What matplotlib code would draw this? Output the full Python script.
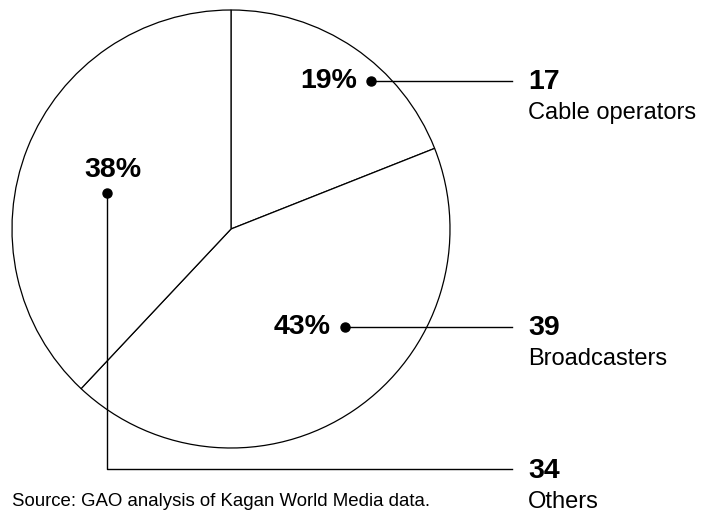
import matplotlib
matplotlib.use("Agg")
import matplotlib.pyplot as plt

# share of deals by acquirer type (GAO / Kagan)
categories = ["Cable operators", "Broadcasters", "Others"]
shares = [19, 43, 38]
counts = [17, 39, 34]

plt.rcParams['font.family'] = ['Liberation Sans', 'DejaVu Sans']

W, H = 702, 512
fig = plt.figure(figsize=(W / 100, H / 100), dpi=100)
ax = fig.add_axes([0, 0, 1, 1])


def fy(y):
    # pixel row (top-down) -> data y (bottom-up)
    return H - y


cx, cy, r = 231, fy(229), 219
ax.pie(shares, startangle=90, counterclock=False, center=(cx, cy), radius=r,
       colors=["white"] * 3, frame=True,
       wedgeprops=dict(edgecolor="black", linewidth=0.9))

ax.set_xlim(0, W)
ax.set_ylim(0, H)
ax.set_aspect("equal")
ax.axis("off")

# leader lines: dot position, path, text position
dots = [(371, 81), (345, 327), (107, 193)]
pct_pos = [(357, 81, "right"), (331, 327, "right"), (113, 170, "center")]
label_y = [81, 327, 470]
lx = 528

for i in range(3):
    dx, dy = dots[i]
    if i < 2:
        ax.plot([dx, 512], [fy(dy), fy(dy)], color="black", lw=1.0)
    else:
        ax.plot([dx, dx, 512], [fy(dy), fy(469), fy(469)], color="black", lw=1.0)
    ax.plot(dx, fy(dy), "o", color="black", markersize=6.5)
    px, py, ha = pct_pos[i]
    ax.text(px, fy(py), f"{shares[i]}%", ha=ha, va="center",
            fontsize=20.5, fontweight="bold")
    ax.text(lx, fy(label_y[i] + 1), str(counts[i]), ha="left", va="center",
            fontsize=20.5, fontweight="bold")
    ax.text(lx, fy(label_y[i] + 32), categories[i], ha="left", va="center",
            fontsize=17)

ax.text(12, fy(502), "Source: GAO analysis of Kagan World Media data.",
        ha="left", va="center", fontsize=13.4)

fig.savefig("out.png", dpi=100)
